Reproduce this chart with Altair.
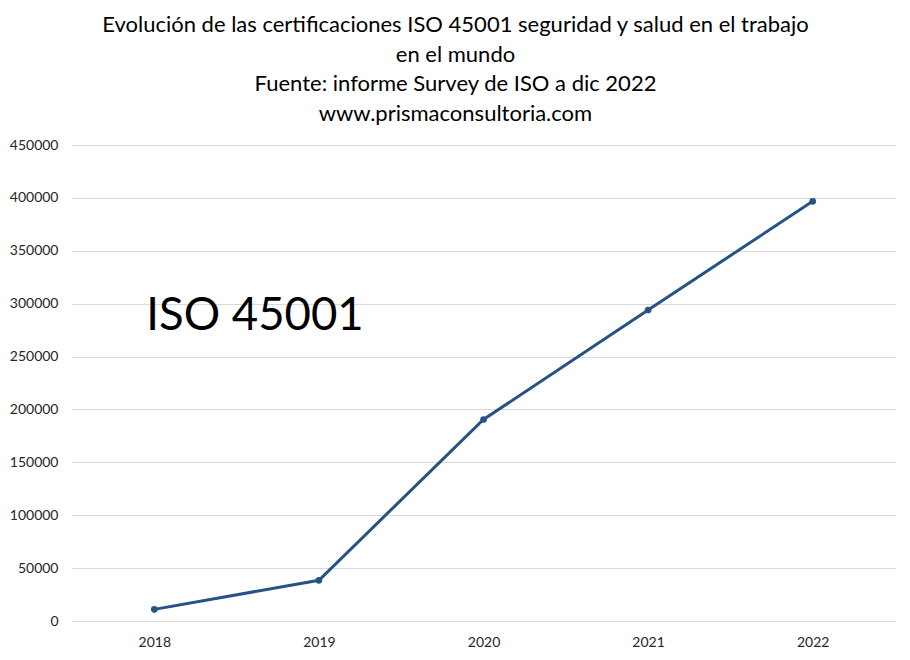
import altair as alt
import pandas as pd

years = ["2018", "2019", "2020", "2021", "2022"]
certs = [11000, 38500, 190500, 294000, 396800]

ann_text = ["ISO 45001"]
ann_year = ["2018"]
ann_value = [275000]

title_lines = [
    "Evolución de las certificaciones ISO 45001 seguridad y salud en el trabajo",
    "en el mundo",
    "Fuente: informe Survey de ISO a dic 2022",
    "www.prismaconsultoria.com",
]

df = pd.DataFrame({"year": years, "value": certs})
ann = pd.DataFrame({"label": ann_text, "year": ann_year, "value": ann_value})

FONT = "Lato"
LINE = "#255383"

x = alt.X("year:O", sort=years, title=None,
          scale=alt.Scale(type="point", padding=0.5),
          axis=alt.Axis(labelAngle=0, labelFontSize=14, labelColor="#262626",
                        labelFont=FONT, domain=False, ticks=False, grid=False,
                        labelPadding=14))
y = alt.Y("value:Q", title=None,
          scale=alt.Scale(domain=[0, 450000], nice=False),
          axis=alt.Axis(values=list(range(0, 450001, 50000)), format="d",
                        labelFontSize=14, labelColor="#262626", labelFont=FONT,
                        domain=False, ticks=False, gridColor="#d9d9d9",
                        gridWidth=1, labelPadding=14))

line = alt.Chart(df).mark_line(color=LINE, strokeWidth=3).encode(x=x, y=y)
pts = alt.Chart(df).mark_point(filled=True, color=LINE, size=45, opacity=1).encode(x=x, y=y)
txt = alt.Chart(ann).mark_text(align="left", baseline="alphabetic", fontSize=45.5,
                               font=FONT, color="#000000", dx=-8).encode(
    x=alt.X("year:O", sort=years), y=alt.Y("value:Q"), text="label:N")

chart = alt.layer(line, pts, txt).properties(
    width=823, height=476,
    autosize=alt.AutoSizeParams(type="none"),
    padding={"left": 64, "top": 137, "right": 7, "bottom": 31},
    title=alt.TitleParams(text=title_lines, fontSize=22, font=FONT,
                          fontWeight="normal", color="#000000", lineHeight=29.7,
                          anchor="middle", dx=-28, offset=12),
).configure(background="white").configure_view(stroke=None)

chart.save("out.html", embed_options={"renderer": "svg", "actions": False})
